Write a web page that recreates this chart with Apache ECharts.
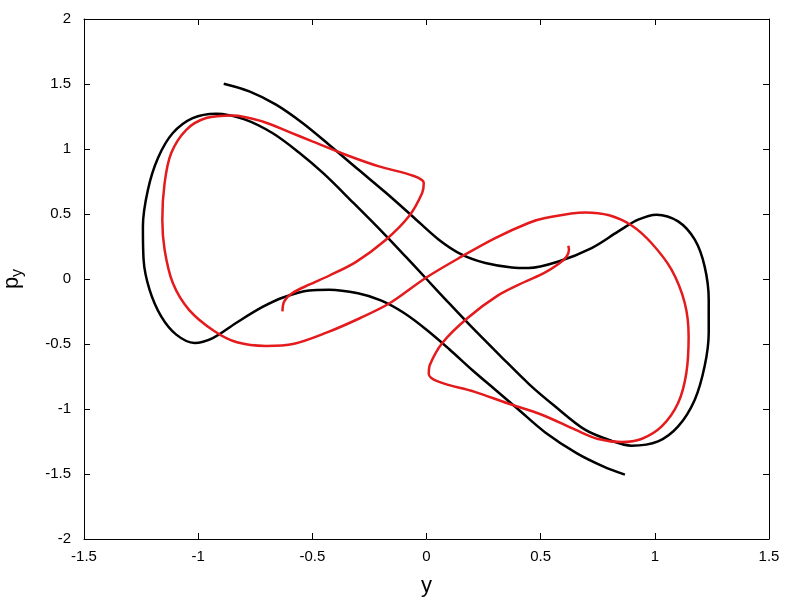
<!DOCTYPE html>
<html>
<head>
<meta charset="utf-8">
<style>
	html, body { margin: 0; padding: 0; background: #fff; }
	#main { width: 800px; height: 600px; }
</style>
<script src="https://cdn.jsdelivr.net/npm/echarts/dist/echarts.min.js"></script>
</head>
<body>
<div id="main"></div>
<script>
// [y, p_y] points, in drawing order
const blackCurve = [
	[-0.888, 1.502], [-0.776, 1.443], [-0.659, 1.341], [-0.543, 1.2], [-0.427, 1.033],
	[-0.296, 0.838], [-0.179, 0.665], [-0.063, 0.485], [0.054, 0.302], [0.155, 0.187],
	[0.258, 0.123], [0.374, 0.089], [0.447, 0.085], [0.578, 0.135], [0.723, 0.238],
	[0.84, 0.366], [0.927, 0.456], [1.007, 0.495], [1.102, 0.443], [1.175, 0.302],
	[1.218, 0.097], [1.236, -0.159], [1.236, -0.415], [1.218, -0.672], [1.175, -0.928],
	[1.102, -1.134], [1.014, -1.249], [0.898, -1.282], [0.811, -1.245], [0.694, -1.159],
	[0.56, -0.975], [0.45, -0.81], [0.32, -0.585], [0.19, -0.355], [0.09, -0.17],
	[0.0, 0.0], [-0.09, 0.17], [-0.19, 0.355], [-0.32, 0.585], [-0.45, 0.81],
	[-0.56, 0.975], [-0.675, 1.123], [-0.8, 1.23], [-0.921, 1.272], [-1.024, 1.238],
	[-1.111, 1.123], [-1.176, 0.931], [-1.22, 0.687], [-1.242, 0.405], [-1.239, 0.148],
	[-1.213, -0.082], [-1.162, -0.288], [-1.096, -0.428], [-1.016, -0.492], [-0.936, -0.454],
	[-0.834, -0.338], [-0.718, -0.215], [-0.625, -0.14], [-0.514, -0.088], [-0.427, -0.082],
	[-0.3, -0.11], [-0.2, -0.165], [-0.1, -0.26], [0.0, -0.39], [0.1, -0.54],
	[0.2, -0.7], [0.3, -0.85], [0.4, -1.0], [0.52, -1.18], [0.659, -1.341],
	[0.776, -1.443], [0.869, -1.505]
];
const redCurve = [
	[-0.631, -0.249], [-0.623, -0.172], [-0.587, -0.108], [-0.514, -0.044], [-0.427, 0.025],
	[-0.31, 0.13], [-0.179, 0.3], [-0.077, 0.482], [-0.019, 0.662], [-0.012, 0.738],
	[-0.055, 0.792], [-0.208, 0.866], [-0.354, 0.956], [-0.5, 1.058], [-0.6, 1.13],
	[-0.718, 1.212], [-0.85, 1.258], [-0.965, 1.238], [-1.052, 1.148], [-1.118, 0.969],
	[-1.147, 0.738], [-1.157, 0.456], [-1.147, 0.225], [-1.111, -0.031], [-1.04, -0.237],
	[-0.93, -0.4], [-0.83, -0.487], [-0.703, -0.515], [-0.58, -0.498], [-0.441, -0.415],
	[-0.29, -0.3], [-0.16, -0.185], [-0.004, 0.008], [0.155, 0.174], [0.301, 0.315],
	[0.447, 0.431], [0.52, 0.469], [0.694, 0.512], [0.8, 0.49], [0.9, 0.41],
	[0.985, 0.277], [1.073, 0.072], [1.131, -0.185], [1.148, -0.441], [1.138, -0.723],
	[1.102, -0.954], [1.03, -1.134], [0.941, -1.231], [0.854, -1.254], [0.752, -1.231],
	[0.651, -1.159], [0.505, -1.044], [0.354, -0.956], [0.208, -0.866], [0.055, -0.792],
	[0.01, -0.73], [0.015, -0.66], [0.07, -0.49], [0.18, -0.3], [0.31, -0.13],
	[0.427, -0.025], [0.514, 0.045], [0.578, 0.115], [0.612, 0.17], [0.624, 0.225],
	[0.621, 0.256]
];
const xRange = [-1.5, 1.5];
const yRange = [-2, 2];

const myChart = echarts.init(document.getElementById('main'));

const font = 'Liberation Sans, Arial, sans-serif';
const frameLine = { show: true, onZero: false, lineStyle: { color: '#000', width: 1 } };
const ticksIn = { show: true, inside: true, length: 6, lineStyle: { color: '#000' } };

const option = {
	animation: false,
	backgroundColor: '#fff',
	grid: { left: 84, right: 31, top: 19, bottom: 61, containLabel: false, outerBoundsMode: 'none' },
	xAxis: [
		{
			type: 'value',
			min: xRange[0],
			max: xRange[1],
			interval: 0.5,
			name: 'y',
			nameLocation: 'middle',
			nameGap: 36,
			nameTextStyle: { fontFamily: font, fontSize: 22, color: '#000' },
			axisLine: frameLine,
			axisTick: ticksIn,
			splitLine: { show: false },
			axisLabel: { fontFamily: font, fontSize: 15, color: '#000', margin: 10 }
		},
		{
			type: 'value',
			position: 'top',
			min: xRange[0],
			max: xRange[1],
			interval: 0.5,
			axisLine: frameLine,
			axisTick: ticksIn,
			splitLine: { show: false },
			axisLabel: { show: false }
		}
	],
	yAxis: [
		{
			type: 'value',
			min: yRange[0],
			max: yRange[1],
			interval: 0.5,
			name: 'p{sub|y}',
			nameLocation: 'middle',
			nameRotate: 90,
			nameGap: 58,
			nameTextStyle: {
				fontFamily: font,
				fontSize: 22,
				color: '#000',
				rich: { sub: { fontFamily: font, fontSize: 16, color: '#000', padding: [12, 0, 0, 0] } }
			},
			axisLine: frameLine,
			axisTick: ticksIn,
			splitLine: { show: false },
			axisLabel: { fontFamily: font, fontSize: 15, color: '#000', margin: 13 }
		},
		{
			type: 'value',
			position: 'right',
			min: yRange[0],
			max: yRange[1],
			interval: 0.5,
			axisLine: frameLine,
			axisTick: ticksIn,
			splitLine: { show: false },
			axisLabel: { show: false }
		}
	],
	series: [
		{
			type: 'line',
			data: blackCurve,
			smooth: 0.33,
			showSymbol: false,
			lineStyle: { color: '#000', width: 2.5 }
		},
		{
			type: 'line',
			data: redCurve,
			smooth: 0.33,
			showSymbol: false,
			lineStyle: { color: '#e41a1c', width: 2.5 }
		}
	]
};
myChart.setOption(option);
</script>
</body>
</html>
